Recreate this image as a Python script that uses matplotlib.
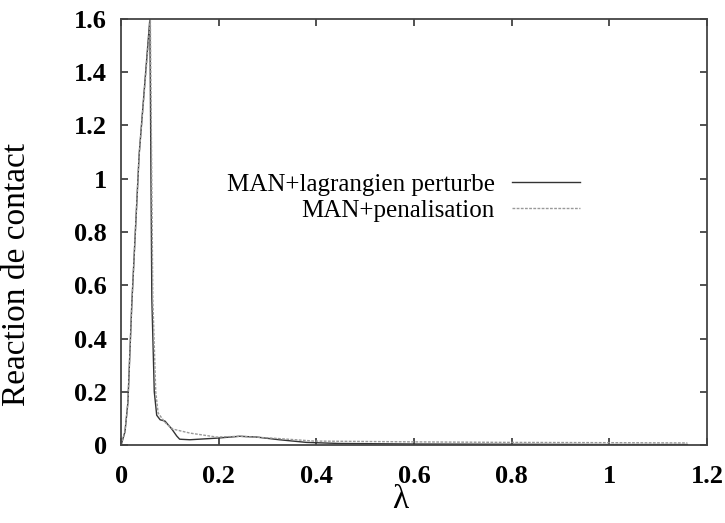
import matplotlib.pyplot as plt

# readings (lambda, contact reaction)
lam_lagr = [0.0, 0.008, 0.014, 0.022, 0.037, 0.059, 0.063, 0.068, 0.073, 0.080,
            0.090, 0.104, 0.114, 0.120, 0.141, 0.196, 0.243, 0.278, 0.324, 0.380,
            0.447, 0.600, 0.800, 1.000, 1.160]
r_lagr = [0.0, 0.05, 0.16, 0.53, 1.09, 1.60, 0.55, 0.20, 0.112, 0.095,
          0.090, 0.060, 0.034, 0.022, 0.020, 0.026, 0.033, 0.030, 0.020, 0.010,
          0.006, 0.004, 0.003, 0.002, 0.002]

lam_pen = [0.0, 0.008, 0.014, 0.022, 0.037, 0.060, 0.065, 0.071, 0.076, 0.090,
           0.106, 0.141, 0.196, 0.243, 0.310, 0.396, 0.600, 0.800, 1.000, 1.160]
r_pen = [0.0, 0.05, 0.16, 0.53, 1.09, 1.60, 0.55, 0.20, 0.120, 0.085,
         0.060, 0.045, 0.030, 0.033, 0.026, 0.015, 0.012, 0.010, 0.009, 0.008]

x_ticks = [0, 0.2, 0.4, 0.6, 0.8, 1, 1.2]
x_ticklabels = ["0", "0.2", "0.4", "0.6", "0.8", "1", "1.2"]
y_ticks = [0, 0.2, 0.4, 0.6, 0.8, 1, 1.2, 1.4, 1.6]
y_ticklabels = ["0", "0.2", "0.4", "0.6", "0.8", "1", "1.2", "1.4", "1.6"]

plt.rcParams['font.family'] = ['Liberation Serif', 'DejaVu Serif']

fig = plt.figure(figsize=(7.25, 5.23), dpi=100)
ax = fig.add_axes([0.167, 0.149, 0.808, 0.815])

ax.plot(lam_lagr, r_lagr, color="#333333", linewidth=1.0,
        label="MAN+lagrangien perturbe")
ax.plot(lam_pen, r_pen, color="#999999", linewidth=1.0, linestyle=(0, (2, 1)),
        label="MAN+penalisation")

ax.set_xlim(0, 1.2)
ax.set_ylim(0, 1.6)
ax.set_xticks(x_ticks)
ax.set_xticklabels(x_ticklabels, fontsize=19, fontweight="bold")
ax.set_yticks(y_ticks)
ax.set_yticklabels(y_ticklabels, fontsize=19, fontweight="bold")
ax.tick_params(direction="in", top=True, right=True, length=5, width=1.2,
               color="#333333")
ax.tick_params(axis="x", pad=14)
ax.tick_params(axis="y", pad=10)
for s in ax.spines.values():
    s.set_color("#444444")
    s.set_linewidth(1.3)

ax.set_xlabel("λ", fontsize=24)
ax.xaxis.set_label_coords(0.476, -0.092)
ax.set_ylabel("Reaction de contact", fontsize=24)
ax.yaxis.set_label_coords(-0.152, 0.40)

leg = ax.legend(loc="upper right", bbox_to_anchor=(0.783, 0.637), frameon=False,
                markerfirst=False, fontsize=18, handlelength=2.7,
                handletextpad=0.7, labelspacing=0.12, borderpad=0,
                borderaxespad=0)

fig.savefig("out.png", dpi=100)
